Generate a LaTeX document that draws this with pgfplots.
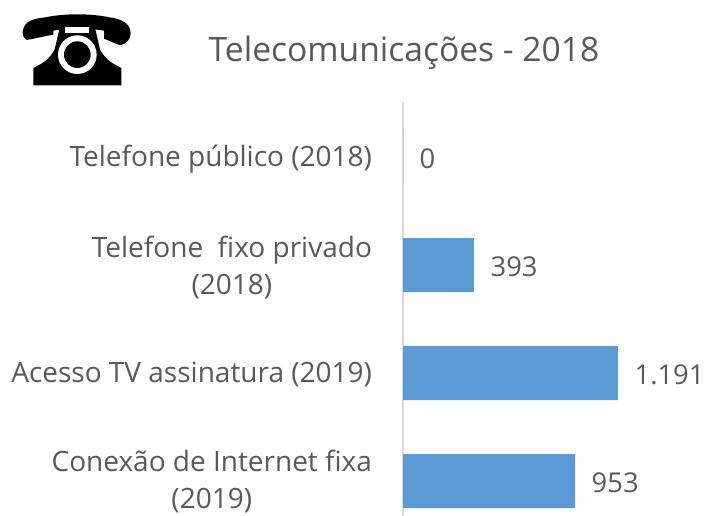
\documentclass[border=0pt]{standalone}
\usepackage{pgfplots}
\pgfplotsset{compat=1.18}
\usepackage{fontspec}
\setmainfont{Open Sans}
\definecolor{txt}{RGB}{89,89,89}
\definecolor{barc}{RGB}{91,155,213}
\begin{document}
\begin{tikzpicture}[x=1pt,y=1pt]
\useasboundingbox (0,0) rectangle (534,387);
\begin{axis}[
  at={(302.25pt,0pt)},anchor=south west,
  width=231.75pt,height=310.5pt,scale only axis,
  xmin=0,xmax=1712,ymin=-0.51,ymax=3.324,
  y dir=reverse,
  axis x line=none,
  axis y line*=left,
  axis line style={draw=black!15,line width=1pt},
  ytick={0,1,2,3},
  yticklabels={},
  tick style={draw=none},
  clip=false,
  xbar,
  bar width=40.5pt,
  nodes near coords,
  nodes near coords style={font=\fontsize{20.5pt}{24pt}\selectfont,text=txt,anchor=west,xshift=9pt,yshift=-1.2pt},
  point meta=explicit symbolic,
]
\addplot[fill=barc,draw=none] coordinates {(0,0)[0] (393,1)[393] (1191,2)[1.191] (953,3)[953]};
\end{axis}
\node[anchor=base,text=txt,font=\fontsize{25.2pt}{28pt}\selectfont] at (303,340.5) {Telecomunicações - 2018};
\node[anchor=east,align=center,text=txt,font=\fontsize{21pt}{27.75pt}\selectfont] at (282.5,268) {Telefone público (2018)};
\node[anchor=east,align=center,text=txt,font=\fontsize{21pt}{27.75pt}\selectfont] at (282.5,186) {Telefone\ \ fixo privado\\(2018)};
\node[anchor=east,align=center,text=txt,font=\fontsize{21pt}{27.75pt}\selectfont] at (282.5,106) {Acesso TV assinatura (2019)};
\node[anchor=east,align=center,text=txt,font=\fontsize{21pt}{27.75pt}\selectfont] at (282.5,26) {Conexão de Internet fixa\\(2019)};
% telephone icon
\fill[black] (17,363) .. controls (18,372) and (26,373) .. (34,374) .. controls (48,377) and (68,377) .. (82,374) .. controls (90,373) and (98,370) .. (98,362) .. controls (98,358) and (95,354) .. (90,353) -- (78,358) -- (78,364) .. controls (66,366) and (50,366) .. (40,364) -- (40,361) .. controls (34,360) and (26,358) .. (20,357) .. controls (18,358) and (17,360) .. (17,363) -- cycle;
\fill[black] (45,367) -- (71,367) -- (75,350) .. controls (79,342) and (85,339) .. (91,336) -- (91,323) -- (25,323) -- (25,336) .. controls (31,339) and (37,342) .. (41,350) -- cycle;
\fill[white] (49,367) rectangle (67,362);
\fill[white] (58,346) circle (14.5);
\fill[black] (58,346) circle (10);
\end{tikzpicture}
\end{document}
